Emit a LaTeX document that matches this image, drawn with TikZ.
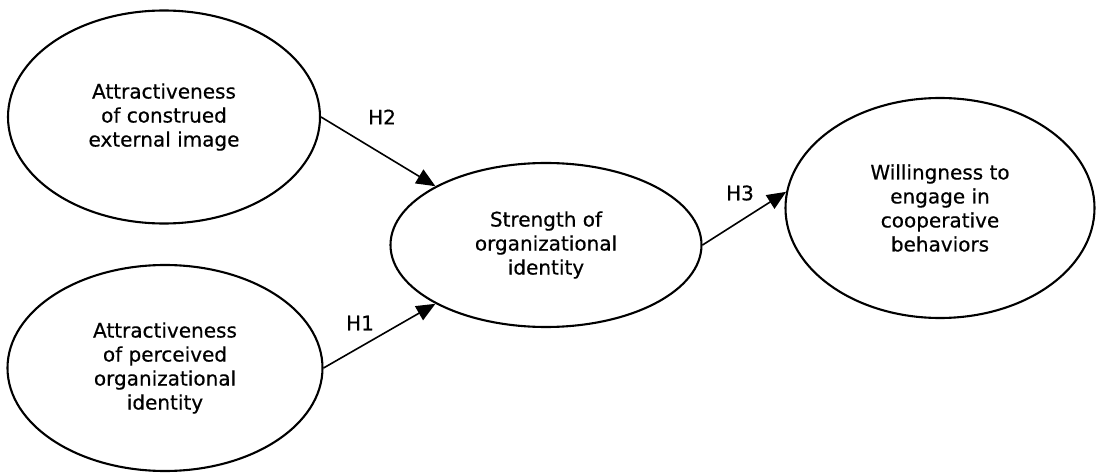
\documentclass[tikz,border=0pt]{standalone}
\usepackage{fontspec}
\setmainfont{DejaVu Sans}[FakeBold=0.5]
\usetikzlibrary{shapes.geometric,arrows.meta}
\begin{document}
\begin{tikzpicture}[x=1pt,y=-1pt,
  construct/.style={ellipse, draw=black, line width=2.1pt, inner sep=0pt,
    align=center, font=\fontsize{20}{24}\selectfont},
  link/.style={line width=1.6pt, -{Triangle[length=19pt,width=16pt]}},
  hyp/.style={font=\fontsize{20}{24}\selectfont, inner sep=0pt}]
\useasboundingbox[fill=white] (0,0) rectangle (1096,473);
\node[construct, minimum width=312pt, minimum height=213pt] (A) at (164,117)
  {Attractiveness\\of construed\\external image};
\node[construct, minimum width=315pt, minimum height=206pt] (B) at (165,368)
  {Attractiveness\\of perceived\\organizational\\identity};
\node[construct, minimum width=311pt, minimum height=164pt] (S) at (546,245)
  {Strength of\\organizational\\identity};
\node[construct, minimum width=309pt, minimum height=220pt] (W) at (940,208)
  {Willingness to\\engage in\\cooperative\\behaviors};
\draw[link] (A.east) -- (S.152);
\draw[link] (B.east) -- (S.208);
\draw[link] (S.east) -- (W.174);
\node[hyp] (h2) at (382,117) {H2};
\node[hyp] (h1) at (360,323) {H1};
\node[hyp] (h3) at (740,193) {H3};
\end{tikzpicture}
\end{document}
